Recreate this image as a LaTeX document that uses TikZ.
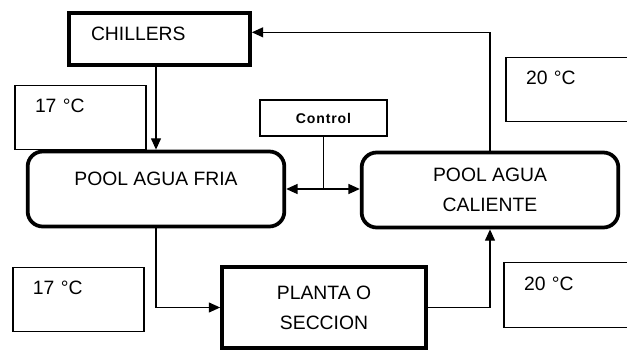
\documentclass[tikz,border=0pt]{standalone}
\usepackage{fontspec}
\setmainfont{Liberation Sans}
\newfontfamily\ctlfont[LetterSpace=6]{Liberation Sans}
\usetikzlibrary{positioning,calc,arrows.meta}

\begin{document}
\begin{tikzpicture}[
        every node/.style={font=\fontsize{16.5}{25.6}\selectfont},
        blockchill/.style={rectangle, draw=black, line width=3.2pt, align=left, text width=4.11cm, inner xsep=0.66cm, minimum height=1.56cm, text depth=0.3cm},
        blockpool/.style={rectangle, draw=black, line width=3.2pt, rounded corners=0.45cm, align=center, minimum width=7.7cm, minimum height=2.25cm},
        blockplant/.style={rectangle, draw=black, line width=3.2pt, align=center, minimum width=6.12cm, minimum height=2.43cm},
        blockctl/.style={rectangle, draw=black, line width=1pt, minimum width=3.81cm, minimum height=1.08cm, font=\fontsize{12}{14}\ctlfont\bfseries},
        blocktemp/.style={rectangle, draw=black, line width=1pt, align=left, text width=2.73cm, inner xsep=0.6cm, minimum height=1.93cm, text depth=0.7cm},
        link/.style={line width=1.1pt, draw=black},
        arrow/.style={->, line width=1.1pt, draw=black, >={Triangle[length=0.34cm, width=0.3cm]}},
        doublearrow/.style={<->, line width=1.1pt, draw=black, >={Triangle[length=0.34cm, width=0.3cm]}}
        ]
        \useasboundingbox (0,0) rectangle (18.81,-10.53);

        % Main blocks
        \node[blockchill] (chill) at (4.785, -1.17) {CHILLERS};
        \node[blockpool, text depth=0.63cm] (fria) at (4.68, -5.67) {POOL AGUA FRIA};
        \node[blockpool] (cal) at (14.7, -5.7) {POOL AGUA\\CALIENTE};
        \node[blockplant] (planta) at (9.72, -9.225) {PLANTA O\\SECCION};
        \node[blockctl] (ctl) at (9.705, -3.54) {Control};

        % Temperature boxes
        \node[blocktemp] (tfriaup) at (2.415, -3.525) {17 °C};
        \node[blocktemp] (tfriadown) at (2.355, -8.985) {17 °C};
        \node[blocktemp] (tcalup) at (17.145, -2.685) {20 °C};
        \node[blocktemp] (tcaldown) at (17.085, -8.85) {20 °C};

        % Connections
        \draw[arrow] (fria.north |- chill.south) -- (fria.north);
        \draw[arrow] (fria.south) |- (planta.west);
        \draw[arrow] (planta.east) -| (cal.south);
        \draw[arrow] (cal.north) |- ([yshift=0.2cm]chill.east);
        \draw[link] (ctl.south) -- (ctl.south |- fria.east);
        \draw[doublearrow] (fria.east) -- (fria.east -| cal.west);

    \end{tikzpicture}
\end{document}
